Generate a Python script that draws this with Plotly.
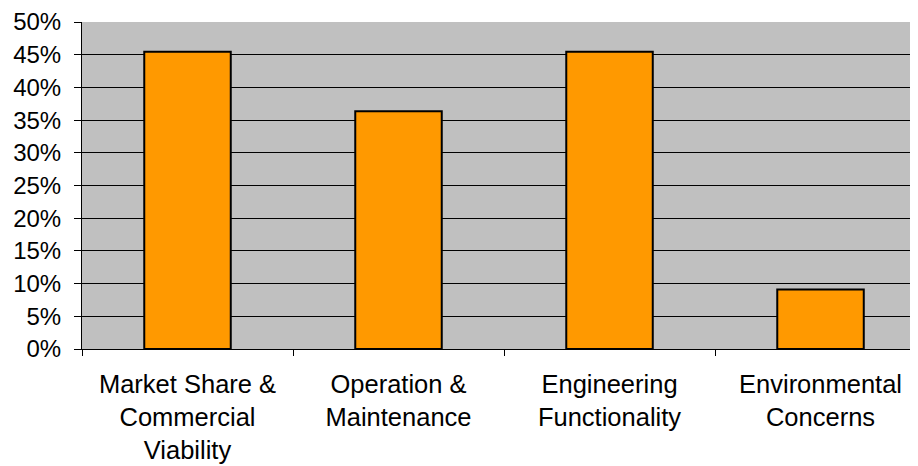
import plotly.graph_objects as go

categories = ["Market Share &<br>Commercial<br>Viability", "Operation &<br>Maintenance",
              "Engineering<br>Functionality", "Environmental<br>Concerns"]
values = [5/11, 4/11, 5/11, 1/11]
y_tickvals = [0, 0.05, 0.10, 0.15, 0.20, 0.25, 0.30, 0.35, 0.40, 0.45, 0.50]
y_ticktext = ["0%", "5%", "10%", "15%", "20%", "25%", "30%", "35%", "40%", "45%", "50%"]

FONT = "Liberation Sans, Arial, sans-serif"

fig = go.Figure(go.Bar(
    x=categories, y=values, width=0.41,
    marker=dict(color="#FF9900", line=dict(color="black", width=2)),
))

# page body has an 8px default margin, so the figure is offset by 8px
fig.update_layout(
    width=910, height=458,
    margin=dict(l=74, r=0, t=14, b=117, autoexpand=False),
    paper_bgcolor="white", plot_bgcolor="#C0C0C0",
    font=dict(family=FONT, size=22, color="black"),
    showlegend=False,
)
fig.update_xaxes(
    range=[-0.5, 3.462], showline=True, linecolor="black", linewidth=1,
    ticks="outside", tickson="boundaries", ticklen=6, tickcolor="black",
    showgrid=False, tickfont=dict(size=25.5), ticklabelstandoff=12,
    automargin=False,
)
fig.update_yaxes(
    range=[0, 0.5], tickvals=y_tickvals, ticktext=y_ticktext,
    showline=True, linecolor="black", linewidth=1,
    ticks="outside", ticklen=7, tickcolor="black",
    showgrid=True, gridcolor="black", gridwidth=1,
    zeroline=False, tickfont=dict(size=24), ticklabelstandoff=8,
    automargin=False,
)

fig.write_html("out.html")
